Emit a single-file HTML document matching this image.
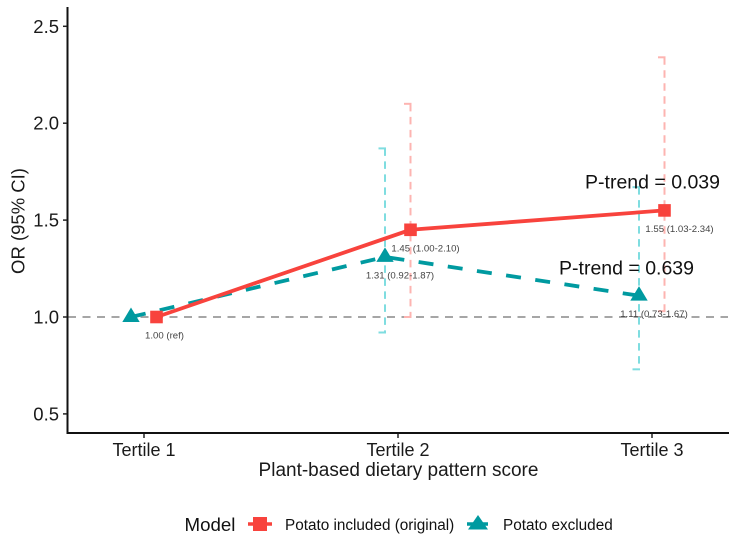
<!DOCTYPE html>
<html>
<head>
<meta charset="utf-8">
<title>OR by plant-based dietary pattern score</title>
<style>
html,body{margin:0;padding:0;background:#fff;}
body{width:744px;height:542px;overflow:hidden;}
svg{display:block;font-family:"Liberation Sans",sans-serif;filter:blur(0.35px);}
</style>
</head>
<body>
<svg id="chart" width="744" height="542" viewBox="0 0 744 542" xmlns="http://www.w3.org/2000/svg">
  <rect x="0" y="0" width="744" height="542" fill="#ffffff"/>
  <g id="marks"></g>
  <g id="axes">
    <line x1="67.5" y1="7" x2="67.5" y2="434" stroke="#111" stroke-width="2"/>
    <line x1="66.5" y1="433" x2="729" y2="433" stroke="#111" stroke-width="2"/>
  </g>
  <text transform="translate(24.5,221) rotate(-90)" text-anchor="middle" font-size="18.5" fill="#1a1a1a">OR (95% CI)</text>
  <text x="398.5" y="476" text-anchor="middle" font-size="19" fill="#1a1a1a">Plant-based dietary pattern score</text>
  <g>
    <text x="184.5" y="531" font-size="18.7" fill="#111">Model</text>
    <g>
      <line x1="248" y1="524" x2="272" y2="524" stroke="#F8433D" stroke-width="3.5"/>
      <rect x="253" y="517" width="14" height="14" fill="#F8433D"/>
      <text x="285" y="530" font-size="15.3" fill="#111">Potato included (original)</text>
    </g>
    <g>
      <line x1="467" y1="524" x2="488" y2="524" stroke="#009AA0" stroke-width="3.5"/>
      <path d="M478 515 L488 529.5 L468 529.5 Z" fill="#009AA0"/>
      <text x="503" y="530" font-size="15.3" fill="#111">Potato excluded</text>
    </g>
  </g>
</svg>
<script>
const categories = ["Tertile 1", "Tertile 2", "Tertile 3"];
const yTicks = [0.5, 1.0, 1.5, 2.0, 2.5];
const refValue = 1.0;
const includedOR = [1.00, 1.45, 1.55];
const includedLower = [1.00, 1.00, 1.03];
const includedUpper = [1.00, 2.10, 2.34];
const includedLabels = ["1.00 (ref)", "1.45 (1.00-2.10)", "1.55 (1.03-2.34)"];
const excludedOR = [1.00, 1.31, 1.11];
const excludedLower = [1.00, 0.92, 0.73];
const excludedUpper = [1.00, 1.87, 1.67];
const excludedLabels = ["", "1.31 (0.92-1.87)", "1.11 (0.73-1.67)"];
const includedTrend = "P-trend = 0.039";
const excludedTrend = "P-trend = 0.639";

const NS = "http://www.w3.org/2000/svg";
const RED = "#F8433D", TEAL = "#009AA0", RED_L = "#FDB4B1", TEAL_L = "#7FDDE0";
const marks = document.getElementById("marks");
const axes = document.getElementById("axes");

function xScale(i) { return 144 + i * 254; }
function yScale(v) { return 317 - (v - 1) * 193.8; }
function make(tag, attrs, parent) {
  const el = document.createElementNS(NS, tag);
  for (const k in attrs) el.setAttribute(k, attrs[k]);
  parent.appendChild(el);
  return el;
}

yTicks.forEach(function (t) {
  const tick = make("line", { x1: 63, x2: 67, y1: yScale(t), y2: yScale(t), stroke: "#222", "stroke-width": 1.5 }, axes);
  
  
  const lab = make("text", { x: 59, y: yScale(t) + 6.5, "text-anchor": "end", "font-size": 18.5, fill: "#1a1a1a" }, axes);
  
  
  lab.textContent = t.toFixed(1);
});

categories.forEach(function (c, i) {
  const tick = make("line", { x1: xScale(i), x2: xScale(i), y1: 434, y2: 438, stroke: "#222", "stroke-width": 1.5 }, axes);
  
  
  const lab = make("text", { x: xScale(i), y: 456, "text-anchor": "middle", "font-size": 18, fill: "#1a1a1a" }, axes);
  
  
  lab.textContent = c;
});

const refLine = make("line", { x1: 68, x2: 728, y1: yScale(refValue), y2: yScale(refValue), stroke: "#A6A6A6", "stroke-width": 2, "stroke-dasharray": "8 6.5" }, marks);



function errorBars(lower, upper, dodge, color) {
  lower.forEach(function (lo, i) {
    if (upper[i] === lo) return;
    const x = xScale(i) + dodge;
    const top = yScale(upper[i]), bot = yScale(lo);
    const bar = make("line", { x1: x, x2: x, y1: top, y2: bot, stroke: color, "stroke-width": 2, "stroke-dasharray": "7.5 5.5" }, marks);
    
    
    const capTop = make("line", { x1: x - 6.5, x2: x + 1, y1: top, y2: top, stroke: color, "stroke-width": 2 }, marks);
    
    
    const capBot = make("line", { x1: x - 6.5, x2: x + 1, y1: bot, y2: bot, stroke: color, "stroke-width": 2 }, marks);
    
    
  });
}
const DODGE_IN = 12.5, DODGE_EX = -13;
errorBars(includedLower, includedUpper, DODGE_IN, RED_L);
errorBars(excludedLower, excludedUpper, DODGE_EX, TEAL_L);

function pts(vals, dodge) {
  return vals.map(function (v, i) { return (xScale(i) + dodge) + "," + yScale(v); }).join(" ");
}
const exLine = make("polyline", { points: pts(excludedOR, DODGE_EX), fill: "none", stroke: TEAL, "stroke-width": 3.8, "stroke-dasharray": "15 14.5" }, marks);


const inLine = make("polyline", { points: pts(includedOR, DODGE_IN), fill: "none", stroke: RED, "stroke-width": 3.8 }, marks);



excludedOR.forEach(function (v, i) {
  const x = xScale(i) + DODGE_EX, y = yScale(v);
  const tri = make("path", { d: "M" + x + " " + (y - 9.5) + " L" + (x + 8.7) + " " + (y + 5) + " L" + (x - 8.7) + " " + (y + 5) + " Z", fill: TEAL }, marks);
  
  
});
includedOR.forEach(function (v, i) {
  const x = xScale(i) + DODGE_IN, y = yScale(v);
  const sq = make("rect", { x: x - 6.3, y: y - 6.3, width: 12.6, height: 12.6, fill: RED }, marks);
  
  
});

function valueLabels(labels, vals, dodge) {
  labels.forEach(function (txt, i) {
    if (!txt) return;
    const dx = i === 0 ? 8 : 15;
    const t = make("text", { x: xScale(i) + dodge + dx, y: yScale(vals[i]) + 21.5, "text-anchor": "middle", "font-size": 9.6, fill: "#444" }, marks);
    
    
    t.textContent = txt;
  });
}
valueLabels(includedLabels, includedOR, DODGE_IN);
valueLabels(excludedLabels, excludedOR, DODGE_EX);

const t1 = make("text", { x: 720, y: yScale(includedOR[2]) - 22, "text-anchor": "end", "font-size": 19.5, fill: "#111" }, marks);


t1.textContent = includedTrend;
const t2 = make("text", { x: 694, y: yScale(excludedOR[2]) - 21, "text-anchor": "end", "font-size": 19.5, fill: "#111" }, marks);


t2.textContent = excludedTrend;
</script>
</body>
</html>
